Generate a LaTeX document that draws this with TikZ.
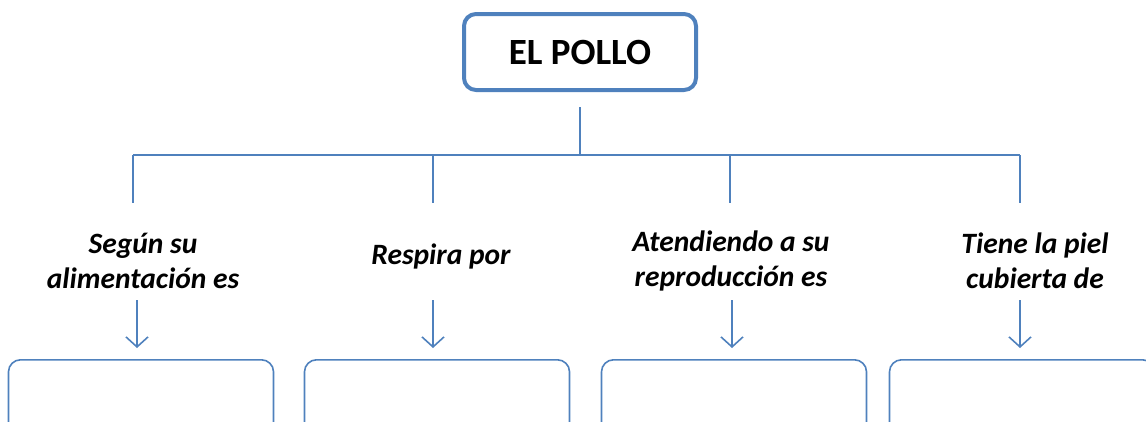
\documentclass[tikz,border=0pt]{standalone}
\usepackage{fontspec}
\setmainfont{Carlito}
\usetikzlibrary{arrows.meta}
\definecolor{ofblue}{RGB}{79,129,189}
\tikzset{
  titlebox/.style={draw=ofblue,line width=4pt,rounded corners=12pt,minimum width=232pt,minimum height=76pt,font=\fontsize{37}{40}\selectfont\bfseries},
  lbl/.style={align=center,font=\fontsize{29.5}{35}\selectfont\bfseries\itshape},
  emptybox/.style={draw=ofblue,line width=1.6pt,rounded corners=12pt,minimum width=265pt,minimum height=90pt,anchor=north},
  conn/.style={draw=ofblue,line width=1.6pt},
  arr/.style={conn,-{Straight Barb[length=10pt,width=22pt,line width=1.6pt]},shorten >=11pt}
}
\begin{document}
\begin{tikzpicture}[x=1pt,y=-1pt]
\useasboundingbox (0,0) rectangle (1146,421);
\clip (0,0) rectangle (1146,421);
\node[titlebox] (T) at (580,52) {EL POLLO};
\coordinate (stem) at (580,107);
\coordinate (bar) at (580,155);
\coordinate (j1) at (133,155);
\coordinate (j2) at (433,155);
\coordinate (j3) at (730,155);
\coordinate (j4) at (1020,155);
\coordinate (d1) at (133,203);
\coordinate (d2) at (433,203);
\coordinate (d3) at (730,203);
\coordinate (d4) at (1020,203);

\node[lbl] (L1) at (143,261) {Según su\\alimentación es};
\node[lbl] (L2) at (441,256) {Respira por};
\node[lbl] (L3) at (731,261) {Atendiendo a su\\reproducción es};
\node[lbl] (L4) at (1035,261) {Tiene la piel\\cubierta de};

\node[emptybox] (B1) at (141,359) {};
\node[emptybox] (B2) at (437,359) {};
\node[emptybox] (B3) at (734,359) {};
\node[emptybox] (B4) at (1022,359) {};

\draw[conn] (stem)--(bar);
\draw[conn] (j1)--(j4);
\draw[conn] (j1)--(d1);
\draw[conn] (j2)--(d2);
\draw[conn] (j3)--(d3);
\draw[conn] (j4)--(d4);

\draw[arr] (137,300) -- (B1.north -| 137,0);
\draw[arr] (433,300) -- (B2.north -| 433,0);
\draw[arr] (732,300) -- (B3.north -| 732,0);
\draw[arr] (1020,300) -- (B4.north -| 1020,0);

\end{tikzpicture}
\end{document}
